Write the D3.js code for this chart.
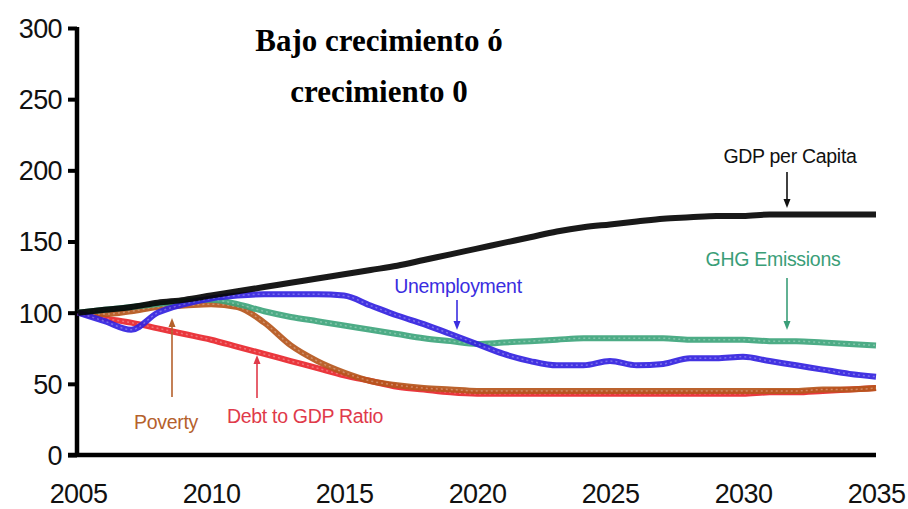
<!DOCTYPE html>
<html>
<head>
<meta charset="utf-8">
<script src="https://cdn.jsdelivr.net/npm/d3@7"></script>
<style>
  html, body { margin: 0; padding: 0; background: #fff; }
  svg { display: block; }
</style>
</head>
<body>
<svg id="chart" width="908" height="509"></svg>
<script>
const years = [2005,2006,2007,2008,2009,2010,2011,2012,2013,2014,2015,2016,2017,2018,2019,2020,2021,2022,2023,2024,2025,2026,2027,2028,2029,2030,2031,2032,2033,2034,2035];
const gdpPerCapita = [100,102,104,107,109,112,115,118,121,124,127,130,133,137,141,145,149,153,157,160,162,164,166,167,168,168,169,169,169,169,169];
const unemployment = [100,94,88,100,106,110,112,113,113,113,112,105,98,92,85,78,71,66,63,63,66,63,64,68,68,69,66,63,60,57,55];
const ghgEmissions = [100,102,104,106,108,109,106,101,97,94,91,88,85,82,80,78,79,80,81,82,82,82,82,81,81,81,80,80,79,78,77];
const poverty = [100,99,101,104,105,106,104,93,77,66,58,52,49,47,46,45,45,45,45,45,45,45,45,45,45,45,45,45,46,46,47];
const debtToGdp = [100,96,93,89,85,81,76,71,66,61,56,52,48,46,44,43,43,43,43,43,43,43,43,43,43,43,44,44,45,46,47];
const yTicks = [0,50,100,150,200,250,300];
const xTicks = [2005,2010,2015,2020,2025,2030,2035];
const titleLines = ["Bajo crecimiento ó","crecimiento 0"];
const seriesNames = ["Debt to GDP Ratio","Poverty","GHG Emissions","Unemployment","GDP per Capita"];

const svg = d3.select("#chart");
const x = d3.scaleLinear().domain([2005,2035]).range([78,876]);
const y = d3.scaleLinear().domain([0,300]).range([455,28]);

const font = "'Liberation Sans', Arial, Helvetica, sans-serif";

// Title
svg.selectAll("text.title").data(titleLines).enter().append("text")
  .attr("class","title")
  .attr("x",379).attr("y",(d,i)=>51+i*51)
  .attr("text-anchor","middle")
  .attr("font-family","'Liberation Serif', 'Times New Roman', serif")
  .attr("font-weight","bold").attr("font-size",31)
  .text(d=>d);

// Y axis
const yAxis = d3.axisLeft(y).tickValues(yTicks).tickSize(9).tickPadding(6);
const gy = svg.append("g").attr("transform","translate(77,0)").call(yAxis);
gy.select(".domain").attr("stroke","#000").attr("stroke-width",4.5)
  .attr("d", `M0,${y(300)-1}V${y(0)+2}`);
gy.selectAll(".tick line").attr("stroke","#000").attr("stroke-width",4);
gy.selectAll(".tick text").attr("font-family",font).attr("font-size",27)
  .attr("letter-spacing","-0.6").attr("fill","#111").attr("dy","0.35em");

// X axis
const xAxis = d3.axisBottom(x).tickValues(xTicks).tickSize(0).tickPadding(43).tickFormat(d3.format("d"));
const gx = svg.append("g").attr("transform","translate(0,455)").call(xAxis);
gx.select(".domain").attr("stroke","#000").attr("stroke-width",4.5)
  .attr("d", `M68,0H876`);
gx.selectAll(".tick text").attr("font-family",font).attr("font-size",27)
  .attr("letter-spacing","-0.6").attr("fill","#111").attr("dy","0.2em");

// Lines
const series = [
  {name: seriesNames[0], values: debtToGdp, color: "#e8262c"},
  {name: seriesNames[1], values: poverty, color: "#b5561c"},
  {name: seriesNames[2], values: ghgEmissions, color: "#3ea57c"},
  {name: seriesNames[3], values: unemployment, color: "#3322e0"},
  {name: seriesNames[4], values: gdpPerCapita, color: "#050505"}
];
const line = d3.line().x((d,i)=>x(years[i])).y(d=>y(d)).curve(d3.curveMonotoneX);
series.forEach(s => {
  svg.append("path").datum(s.values).attr("d",line)
    .attr("fill","none").attr("stroke",s.color).attr("stroke-width",6)
    .attr("stroke-linejoin","round").attr("stroke-linecap","butt")
    .attr("opacity", 0.92);
  if (s.name !== "GDP per Capita") {
    svg.append("path").datum(s.values).attr("d",line)
      .attr("fill","none").attr("stroke","#fff").attr("stroke-width",1.5)
      .attr("stroke-dasharray","2,3").attr("opacity",0.3);
  }
});

// Annotations
const ann = [
  {text: seriesNames[4], color:"#111", tx:790, ty:163, ax:787, a1:172, a2:208},
  {text: seriesNames[2], color:"#3a9e78", tx:773, ty:266, ax:787, a1:278, a2:330},
  {text: seriesNames[3], color:"#3a2de0", tx:458, ty:293, ax:457, a1:300, a2:330},
  {text: seriesNames[1], color:"#b5612c", tx:166, ty:429, ax:172, a1:397, a2:318},
  {text: seriesNames[0], color:"#e03a4a", tx:305, ty:423, ax:257, a1:398, a2:355}
];
ann.forEach(a => {
  svg.append("text").attr("x",a.tx).attr("y",a.ty).attr("text-anchor","middle")
    .attr("font-family",font).attr("font-size",19.5).attr("fill",a.color)
    .attr("letter-spacing","-0.3").text(a.text);
  const dir = a.a2 > a.a1 ? 1 : -1;
  svg.append("line").attr("x1",a.ax).attr("x2",a.ax).attr("y1",a.a1).attr("y2",a.a2 - dir*6)
    .attr("stroke",a.color).attr("stroke-width",1.6);
  svg.append("path")
    .attr("d",`M${a.ax-3.5},${a.a2-dir*9}L${a.ax},${a.a2}L${a.ax+3.5},${a.a2-dir*9}Z`)
    .attr("fill",a.color);
});
</script>
</body>
</html>
